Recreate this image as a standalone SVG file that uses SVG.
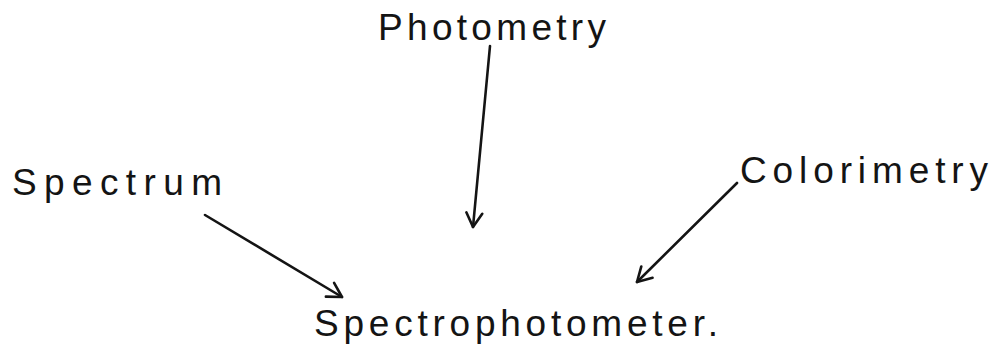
<svg xmlns="http://www.w3.org/2000/svg" width="993" height="353" viewBox="0 0 993 353">
<defs>
<style>
.t{font-family:"Liberation Sans","DejaVu Sans",sans-serif;font-size:37px;fill:#141414}
.c{stroke:#141414;stroke-width:2.6;fill:none;stroke-linecap:round}
</style>
<marker id="ah" viewBox="0 0 20 20" refX="18" refY="10" markerWidth="20" markerHeight="20" markerUnits="userSpaceOnUse" orient="auto">
<path d="M4,2 L18,10 L4,18" fill="none" stroke="#141414" stroke-width="2.6" stroke-linecap="round" stroke-linejoin="round"/>
</marker>
</defs>
<rect width="993" height="353" fill="#ffffff"/>
<g id="photometry"><text class="t" x="378" y="40" textLength="228" lengthAdjust="spacing">Photometry</text></g>
<g id="spectrum"><text class="t" x="12" y="195" textLength="210" lengthAdjust="spacing">Spectrum</text></g>
<g id="colorimetry"><text class="t" x="740" y="183" textLength="248" lengthAdjust="spacing">Colorimetry</text></g>
<g id="spectrophotometer"><text class="t" x="314" y="336" textLength="404" lengthAdjust="spacing">Spectrophotometer.</text></g>
<g id="connectors">
<line class="c" x1="490" y1="46" x2="473" y2="227" marker-end="url(#ah)"/>
<line class="c" x1="205" y1="215" x2="342" y2="297" marker-end="url(#ah)"/>
<line class="c" x1="737" y1="183" x2="637" y2="282" marker-end="url(#ah)"/>
</g>
</svg>
